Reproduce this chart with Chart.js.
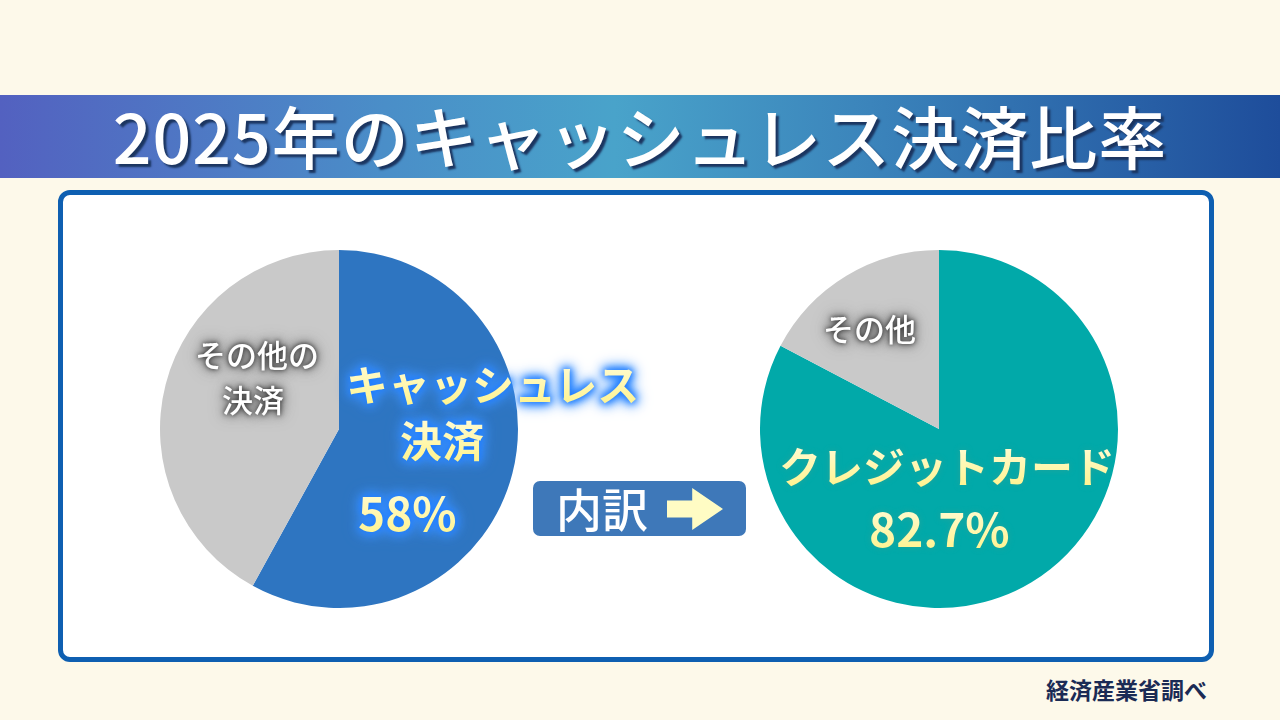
<!DOCTYPE html>
<html lang="ja">
<head>
<meta charset="utf-8">
<script src="https://cdn.jsdelivr.net/npm/chart.js@4"></script>
<style>
  body { margin: 0; width: 1280px; height: 720px; background: #fdf9ea; position: relative; overflow: hidden;
         font-family: "Noto Sans CJK JP", "Noto Sans", sans-serif; }
  #title { position: absolute; left: 0; top: 95px; width: 1280px; height: 83px;
           background: linear-gradient(90deg, #5361c0 0%, #4a8ec8 30%, #49a3ca 48%, #3b84bb 68%, #1e4d9b 100%);
           color: #fff; font-size: 68px; font-weight: 500; text-align: center; line-height: 80px;
           text-shadow: 3px 3px 2px #1b3560; letter-spacing: 1px; }
  #panel { position: absolute; left: 58px; top: 190px; width: 1146px; height: 462px;
           background: #fff; border: 5px solid #0e5fb1; border-radius: 12px; }
  .pie { position: absolute; top: 250px; width: 358px; height: 358px; }
  .lbl { position: absolute; font-weight: 700; white-space: nowrap; line-height: 1; }
  .gold { background: linear-gradient(180deg, #fffde0 5%, #fff38c 90%); -webkit-background-clip: text;
          background-clip: text; color: transparent; }
  .blueglow { filter: drop-shadow(0 0 3px #1f7dff) drop-shadow(0 0 5px #1f7dff) drop-shadow(0 0 6px #4a9cff); }
  .tealglow { filter: drop-shadow(0 0 3px #23a49c); }
  .grayglow { color: #fff; text-shadow: 0 0 4px #333, 0 0 9px #444, 0 0 16px #666; }
  #btn { position: absolute; left: 533px; top: 481px; width: 213px; height: 55px; background: #3e78b9;
         border-radius: 7px; }
  #btn span { position: absolute; left: 23px; top: 1px; color: #fff; font-size: 46px; font-weight: 500; line-height: 50px; }
  #arrow { position: absolute; left: 134px; top: 7px; width: 56px; height: 42px; background: #fffcc4;
           clip-path: polygon(0 30%, 45% 30%, 45% 0, 100% 50%, 45% 100%, 45% 70%, 0 70%); }
  #src { position: absolute; left: 1046px; top: 672px; font-size: 23px; font-weight: 700; color: #1b2b55; }
</style>
</head>
<body>
<div id="title">2025年のキャッシュレス決済比率</div>
<div id="panel"></div>
<div class="pie" style="left:160px"><canvas id="leftPie" width="358" height="358"></canvas></div>
<div class="pie" style="left:760px"><canvas id="rightPie" width="358" height="358"></canvas></div>

<div class="lbl grayglow" style="left:195px;top:338px;font-size:31px;font-weight:500">その他の</div>
<div class="lbl grayglow" style="left:222px;top:383px;font-size:31px;font-weight:500">決済</div>
<div class="lbl blueglow" style="left:346px;top:362px;font-size:42px"><span class="gold">キャッシュレス</span></div>
<div class="lbl blueglow" style="left:400px;top:418px;font-size:42px"><span class="gold">決済</span></div>
<div class="lbl blueglow" id="leftPct" style="left:358px;top:488px;font-size:46px"><span class="gold"></span></div>

<div id="btn"><span>内訳</span><div id="arrow"></div></div>

<div class="lbl grayglow" style="left:823px;top:312px;font-size:31px;font-weight:500">その他</div>
<div class="lbl tealglow" style="left:779px;top:444px;font-size:42px"><span class="gold">クレジットカード</span></div>
<div class="lbl tealglow" id="rightPct" style="left:869px;top:504px;font-size:46px"><span class="gold"></span></div>

<div id="src">経済産業省調べ</div>

<script>
// 左：決済手段の比率
var leftLabels = ["キャッシュレス決済", "その他の決済"];
var leftValues = [58, 42];
// 右：キャッシュレス決済の内訳
var rightLabels = ["クレジットカード", "その他"];
var rightValues = [82.7, 17.3];

document.querySelector("#leftPct span").textContent = leftValues[0] + "%";
document.querySelector("#rightPct span").textContent = rightValues[0] + "%";

function makePie(id, labels, values, colors) {
    return new Chart(document.getElementById(id), {
        type: "pie",
        data: {
            labels: labels,
            datasets: [{
                data: values,
                backgroundColor: colors,
                borderWidth: 0
            }]
        },
        options: {
            responsive: false,
            animation: false,
            layout: { padding: 0 },
            plugins: {
                legend: { display: false },
                tooltip: { enabled: false }
            }
        }
    });
}

var leftChart = makePie("leftPie", leftLabels, leftValues, ["#2e75c1", "#c9c9c9"]);
var rightChart = makePie("rightPie", rightLabels, rightValues, ["#01a9a9", "#c9c9c9"]);
</script>
</body>
</html>
